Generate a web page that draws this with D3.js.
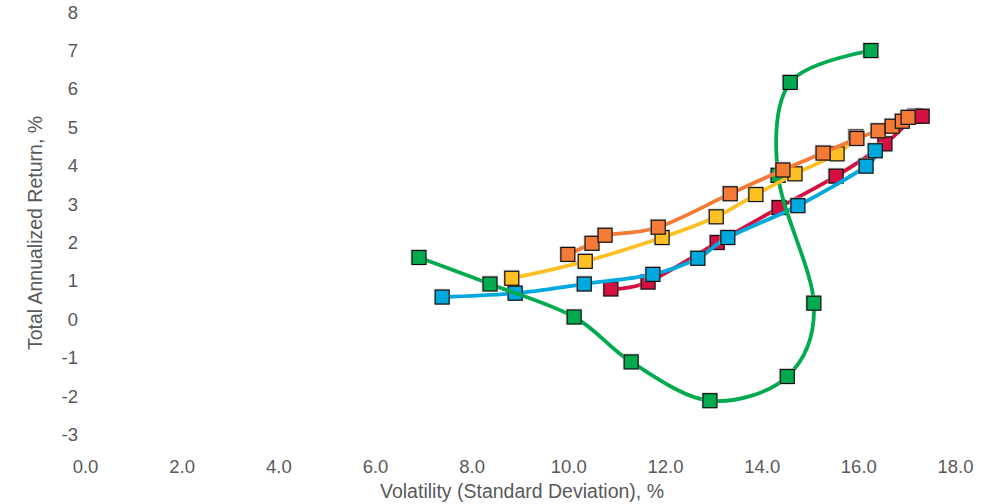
<!DOCTYPE html>
<html>
<head>
<meta charset="utf-8">
<script src="https://cdn.jsdelivr.net/npm/d3@7"></script>
<style>
  html, body { margin: 0; padding: 0; background: #fff; }
  svg { display: block; }
  .tick text { font-family: "Liberation Sans", Arial, sans-serif; font-size: 18.5px; fill: #595959; }
</style>
</head>
<body>
<svg id="chart" width="1003" height="504"></svg>
<script>
// ---- data (volatility %, return %) ----
const greenX  = [6.91, 8.38, 10.12, 11.30, 12.93, 14.53, 15.08, 14.34, 14.59, 16.26];
const greenY  = [1.61, 0.92, 0.06, -1.11, -2.12, -1.49, 0.42, 3.75, 6.17, 7.00];
const redX    = [10.88, 11.65, 13.08, 14.36, 15.54, 16.55, 17.17, 17.32];
const redY    = [0.79, 0.97, 2.00, 2.91, 3.73, 4.57, 5.29, 5.29];
const blueX   = [7.39, 8.90, 10.33, 11.75, 12.68, 13.30, 14.75, 16.16, 16.35];
const blueY   = [0.58, 0.68, 0.92, 1.17, 1.59, 2.13, 2.96, 3.99, 4.39];
const yellowX = [8.83, 10.35, 11.94, 13.06, 13.88, 14.69, 15.56, 15.95];
const yellowY = [1.07, 1.51, 2.13, 2.67, 3.25, 3.79, 4.31, 4.75];
const orangeX = [9.99, 10.49, 10.76, 11.86, 13.35, 14.44, 15.27, 15.97, 16.41, 16.70, 16.91, 17.03];
const orangeY = [1.69, 1.98, 2.19, 2.40, 3.27, 3.89, 4.33, 4.71, 4.91, 5.03, 5.16, 5.26];

const xTicks = [0, 2, 4, 6, 8, 10, 12, 14, 16, 18];
const yTicks = [-3, -2, -1, 0, 1, 2, 3, 4, 5, 6, 7, 8];

const seriesList = [
  { name: "Red",    xs: redX,    ys: redY,    color: "#d3103f" },
  { name: "Blue",   xs: blueX,   ys: blueY,   color: "#00a9dd" },
  { name: "Green",  xs: greenX,  ys: greenY,  color: "#00ab4f" },
  { name: "Yellow", xs: yellowX, ys: yellowY, color: "#fdc024" },
  { name: "Orange", xs: orangeX, ys: orangeY, color: "#f47b36" }
];

const svg = d3.select("#chart");
const x = d3.scaleLinear().domain([0, 18]).range([85, 955]);
const y = d3.scaleLinear().domain([-3, 8]).range([434.5, 12.2]);

// axes (labels only)
const xAxis = svg.append("g").attr("transform", "translate(0,460)")
  .call(d3.axisBottom(x).tickValues(xTicks).tickFormat(d3.format(".1f")).tickSize(0).tickPadding(0));
xAxis.select(".domain").remove();

const yAxis = svg.append("g").attr("transform", "translate(78,0)")
  .call(d3.axisLeft(y).tickValues(yTicks).tickFormat(d => String(d)).tickSize(0).tickPadding(0));
yAxis.select(".domain").remove();

// axis titles
svg.append("text")
  .attr("x", 522).attr("y", 498)
  .attr("text-anchor", "middle")
  .attr("font-family", "Liberation Sans, Arial, sans-serif")
  .attr("font-size", 19.5).attr("fill", "#595959")
  .text("Volatility (Standard Deviation), %");

svg.append("text")
  .attr("transform", "translate(42,233) rotate(-90)")
  .attr("text-anchor", "middle")
  .attr("font-family", "Liberation Sans, Arial, sans-serif")
  .attr("font-size", 19.5).attr("fill", "#595959")
  .text("Total Annualized Return, %");

const line = d3.line()
  .x(d => x(d[0])).y(d => y(d[1]))
  .curve(d3.curveCatmullRom.alpha(0));

const ms = 14;
seriesList.forEach(s => {
  const pts = s.xs.map((v, i) => [v, s.ys[i]]);
  const g = svg.append("g");
  g.append("path")
    .attr("d", line(pts))
    .attr("fill", "none")
    .attr("stroke", s.color)
    .attr("stroke-width", 3.8)
    .attr("stroke-linecap", "round");
  // soft shadow
  g.selectAll("rect.sh").data(pts).enter().append("rect")
    .attr("x", d => x(d[0]) - ms / 2 - 1.5)
    .attr("y", d => y(d[1]) - ms / 2 - 1.5)
    .attr("width", ms + 2).attr("height", ms + 2)
    .attr("fill", "#bdbdbd").attr("opacity", 0.6);
  g.selectAll("rect.mk").data(pts).enter().append("rect")
    .attr("x", d => x(d[0]) - ms / 2)
    .attr("y", d => y(d[1]) - ms / 2)
    .attr("width", ms).attr("height", ms)
    .attr("fill", s.color)
    .attr("stroke", "#111")
    .attr("stroke-width", 1.2);
});
</script>
</body>
</html>
